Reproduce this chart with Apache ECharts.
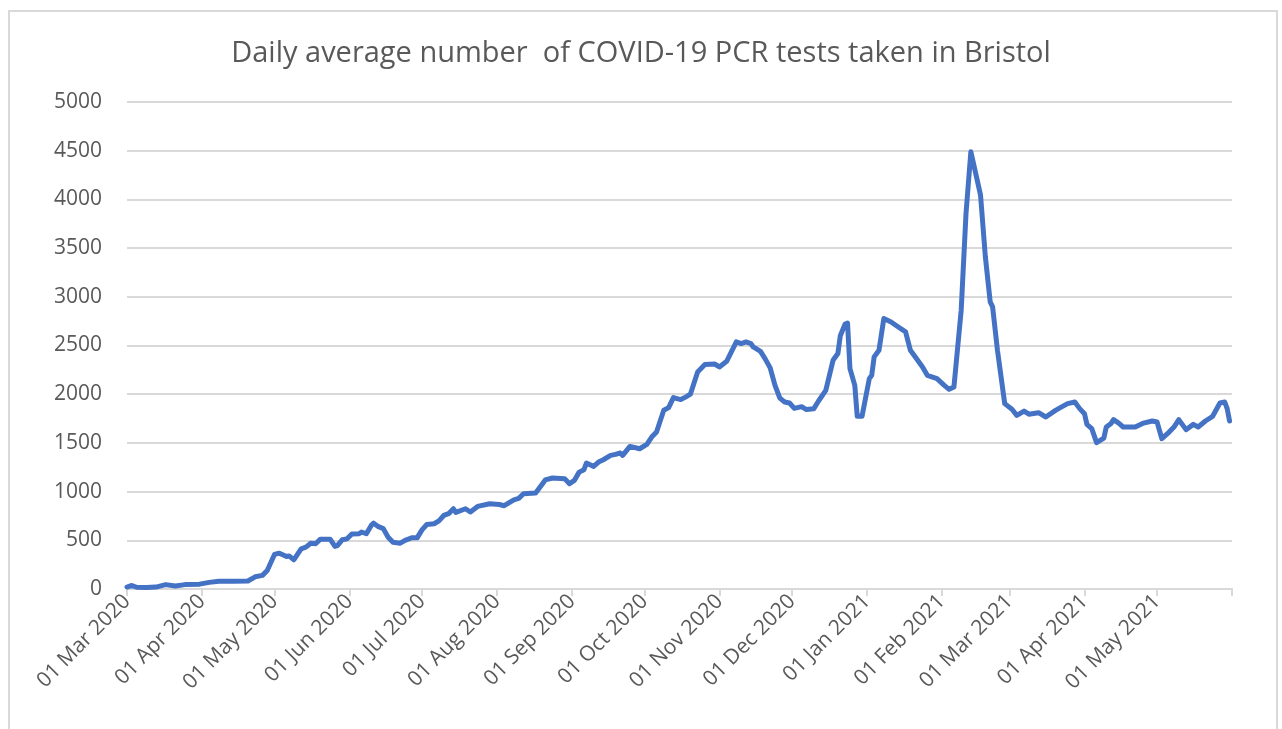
<!DOCTYPE html>
<html>
<head>
<meta charset="utf-8">
<script src="https://cdn.jsdelivr.net/npm/echarts@6/dist/echarts.min.js"></script>
<style>
  html, body { margin: 0; padding: 0; background: #fff; }
  #frame { position: absolute; left: 8px; top: 10px; width: 1270px; height: 740px; border: 2px solid #d9d9d9; box-sizing: border-box; }
  #chart { position: absolute; left: 0; top: 0; width: 1282px; height: 729px; }
</style>
</head>
<body>
<div id="frame"></div>
<div id="chart"></div>
<script>
// readings (date, daily average tests)
const readDates = [
  '2020-03-01', '2020-03-03', '2020-03-05', '2020-03-09', '2020-03-13', '2020-03-17', '2020-03-21', '2020-03-25', '2020-03-31',
  '2020-04-04', '2020-04-08', '2020-04-14', '2020-04-20', '2020-04-23', '2020-04-26', '2020-04-28',
  '2020-05-01', '2020-05-03', '2020-05-06', '2020-05-07', '2020-05-09', '2020-05-12', '2020-05-14', '2020-05-16', '2020-05-18',
  '2020-05-20', '2020-05-24', '2020-05-26', '2020-05-27', '2020-05-29', '2020-05-31',
  '2020-06-02', '2020-06-05', '2020-06-06', '2020-06-08', '2020-06-10', '2020-06-11', '2020-06-13', '2020-06-15', '2020-06-17',
  '2020-06-19', '2020-06-22', '2020-06-24', '2020-06-27', '2020-06-29',
  '2020-07-01', '2020-07-03', '2020-07-06', '2020-07-08', '2020-07-10', '2020-07-12', '2020-07-14', '2020-07-15', '2020-07-19',
  '2020-07-21', '2020-07-24', '2020-07-29',
  '2020-08-02', '2020-08-04', '2020-08-08', '2020-08-10', '2020-08-12', '2020-08-17', '2020-08-21', '2020-08-24', '2020-08-29', '2020-08-31',
  '2020-09-02', '2020-09-04', '2020-09-06', '2020-09-07', '2020-09-10', '2020-09-12', '2020-09-14', '2020-09-17', '2020-09-19',
  '2020-09-21', '2020-09-22', '2020-09-25', '2020-09-29',
  '2020-10-02', '2020-10-04', '2020-10-06', '2020-10-09', '2020-10-11', '2020-10-13', '2020-10-16', '2020-10-18', '2020-10-20',
  '2020-10-23', '2020-10-26', '2020-10-30',
  '2020-11-01', '2020-11-04', '2020-11-08', '2020-11-10', '2020-11-12', '2020-11-14', '2020-11-15', '2020-11-18', '2020-11-20',
  '2020-11-22', '2020-11-24', '2020-11-26', '2020-11-28', '2020-11-30',
  '2020-12-02', '2020-12-05', '2020-12-07', '2020-12-10', '2020-12-12', '2020-12-15', '2020-12-18', '2020-12-20', '2020-12-21',
  '2020-12-23', '2020-12-24', '2020-12-25', '2020-12-27', '2020-12-28', '2020-12-30',
  '2021-01-02', '2021-01-03', '2021-01-04', '2021-01-06', '2021-01-08', '2021-01-11', '2021-01-14', '2021-01-17', '2021-01-19',
  '2021-01-22', '2021-01-24', '2021-01-26', '2021-01-30',
  '2021-02-02', '2021-02-04', '2021-02-06', '2021-02-09', '2021-02-11', '2021-02-13', '2021-02-15', '2021-02-17', '2021-02-19',
  '2021-02-21', '2021-02-22', '2021-02-24', '2021-02-27',
  '2021-03-02', '2021-03-04', '2021-03-07', '2021-03-09', '2021-03-13', '2021-03-16', '2021-03-20', '2021-03-22', '2021-03-25',
  '2021-03-28', '2021-03-30',
  '2021-04-01', '2021-04-02', '2021-04-04', '2021-04-06', '2021-04-09', '2021-04-10', '2021-04-12', '2021-04-13', '2021-04-15',
  '2021-04-17', '2021-04-22', '2021-04-25', '2021-04-29',
  '2021-05-01', '2021-05-03', '2021-05-06', '2021-05-08', '2021-05-10', '2021-05-13', '2021-05-16', '2021-05-18', '2021-05-21',
  '2021-05-24', '2021-05-27', '2021-05-29', '2021-05-30', '2021-05-31'
];

const readValues = [
  20, 36, 18, 15, 20, 45, 30, 45, 50,
  68, 80, 80, 82, 125, 140, 190,
  355, 368, 334, 340, 300, 413, 430, 470, 465,
  512, 512, 437, 445, 505, 515,
  565, 567, 585, 567, 653, 676, 640, 620, 532,
  480, 470, 500, 527, 525,
  607, 662, 670, 700, 755, 773, 824, 786, 824,
  790, 848, 875,
  868, 855, 916, 930, 978, 985, 1120, 1140, 1133, 1081,
  1115, 1200, 1225, 1293, 1258, 1303, 1327, 1372, 1382,
  1396, 1372, 1464, 1440,
  1485, 1560, 1612, 1835, 1862, 1965, 1945, 1970, 2000,
  2228, 2304, 2310,
  2280, 2338, 2537, 2520, 2537, 2520, 2485, 2440, 2360,
  2270, 2091, 1960, 1920, 1910,
  1855, 1872, 1842, 1850, 1930, 2040, 2348, 2417, 2600,
  2720, 2730, 2263, 2091, 1773, 1773,
  2160, 2195, 2383, 2451, 2777, 2742, 2690, 2640, 2451,
  2348, 2280, 2194, 2160,
  2091, 2050, 2075, 2862, 3856, 4490, 4267, 4044, 3410,
  2948, 2896, 2451, 1903,
  1845, 1783, 1827, 1795, 1810, 1766, 1834, 1862, 1903,
  1920, 1852,
  1800, 1690, 1646, 1503, 1550, 1663, 1700, 1739, 1705,
  1663, 1663, 1700, 1725,
  1715, 1543, 1611, 1663, 1739, 1636, 1690, 1663, 1725,
  1773, 1910, 1920, 1852, 1725
];

const monthNames = ['Jan', 'Feb', 'Mar', 'Apr', 'May', 'Jun', 'Jul', 'Aug', 'Sep', 'Oct', 'Nov', 'Dec'];

// one category per day, 01 Mar 2020 .. 01 Jun 2021
const days = [];
for (let t = Date.UTC(2020, 2, 1); t <= Date.UTC(2021, 5, 1); t += 86400000) {
  days.push(new Date(t).toISOString().slice(0, 10));
}

function isMonthStart(i, v) {
  return v.slice(8) === '01';
}

function dayLabel(v) {
  const p = v.split('-');
  return p[2] + ' ' + monthNames[+p[1] - 1] + ' ' + p[0];
}

const chart = echarts.init(document.getElementById('chart'));

chart.setOption({
  animation: false,
  title: {
    text: 'Daily average number  of COVID-19 PCR tests taken in Bristol',
    left: 'center',
    top: 34,
    textStyle: {
      fontFamily: 'Open Sans',
      fontSize: 29,
      fontWeight: 'normal',
      color: '#595959'
    }
  },
  grid: {
    left: 127,
    right: 50,
    top: 102,
    bottom: 140
  },
  xAxis: {
    type: 'category',
    data: days,
    boundaryGap: false,
    axisLine: { lineStyle: { color: '#d9d9d9', width: 2 } },
    axisTick: {
      interval: isMonthStart,
      length: 7,
      lineStyle: { color: '#d9d9d9', width: 2 }
    },
    axisLabel: {
      interval: function (i, v) { return isMonthStart(i, v) && i < days.length - 1; },
      rotate: 45,
      margin: 9,
      formatter: dayLabel,
      fontFamily: 'Open Sans',
      fontSize: 21,
      color: '#595959'
    },
    splitLine: { show: false }
  },
  yAxis: {
    type: 'value',
    min: 0,
    max: 5000,
    interval: 500,
    axisLine: { show: false },
    axisTick: { show: false },
    axisLabel: {
      margin: 25,
      formatter: function (v) { return String(v); },
      fontFamily: 'Open Sans',
      fontSize: 21,
      color: '#595959'
    },
    splitLine: { lineStyle: { color: '#d9d9d9', width: 2 } }
  },
  series: [{
    type: 'line',
    data: readDates.map((d, i) => [d, readValues[i]]),
    showSymbol: false,
    lineStyle: { color: '#4472c4', width: 5, join: 'round', cap: 'round' },
    itemStyle: { color: '#4472c4' }
  }]
});
</script>
</body>
</html>
